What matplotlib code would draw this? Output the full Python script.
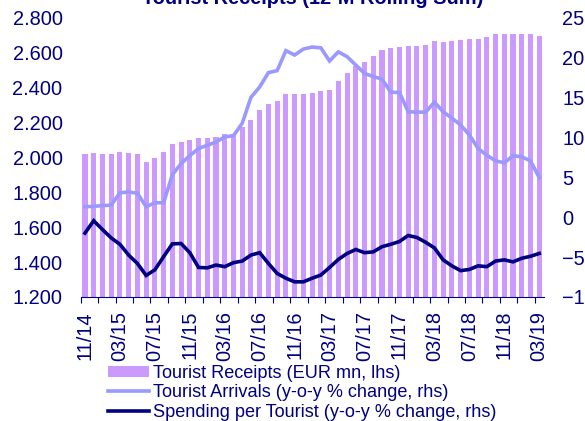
import pandas as pd
import numpy as np
import matplotlib.pyplot as plt
from matplotlib.ticker import FuncFormatter

plt.rcParams['font.family'] = ['Liberation Sans', 'DejaVu Sans']

NAVY = "#000080"
BAR_COLOR = "#CC99FF"
ARRIVALS_COLOR = "#9999FF"

# monthly, 11/2014 - 03/2019
months = pd.date_range("2014-11-01", periods=53, freq="MS").strftime("%m/%y").tolist()

# Tourist receipts, 12-month rolling sum (EUR mn, lhs)
receipts = [2017, 2023, 2019, 2019, 2028, 2024, 2019, 1975, 1996, 2030,
            2076, 2086, 2101, 2112, 2112, 2118, 2131, 2135, 2171, 2213,
            2270, 2303, 2320, 2362, 2362, 2360, 2368, 2378, 2383, 2435,
            2480, 2522, 2547, 2580, 2613, 2623, 2631, 2635, 2639, 2644,
            2667, 2660, 2664, 2673, 2675, 2679, 2687, 2704, 2706, 2706,
            2707, 2706, 2694]

# Tourist arrivals, y-o-y % change (rhs)
arrivals = [1.3, 1.35, 1.45, 1.5, 3.05, 3.15, 3.0, 1.3, 1.8, 1.8,
            5.3, 6.7, 7.7, 8.6, 9.0, 9.4, 10.05, 10.2, 11.75, 15.0,
            16.3, 18.1, 18.35, 20.85, 20.3, 21.05, 21.3, 21.2, 19.55, 20.7,
            20.1, 19.05, 18.0, 17.6, 17.3, 15.65, 15.6, 13.2, 13.15, 13.15,
            14.4, 13.2, 12.4, 11.55, 10.3, 8.6, 7.75, 7.05, 6.8, 7.7,
            7.55, 7.05, 4.95]

# Spending per tourist, y-o-y % change (rhs)
spending = [-2.0, -0.45, -1.55, -2.6, -3.4, -4.75, -5.8, -7.3, -6.6, -4.95,
            -3.35, -3.3, -4.45, -6.3, -6.35, -6.0, -6.2, -5.7, -5.5, -4.75,
            -4.45, -5.8, -7.05, -7.65, -8.1, -8.1, -7.65, -7.25, -6.3, -5.3,
            -4.55, -4.05, -4.45, -4.35, -3.7, -3.4, -3.05, -2.3, -2.55, -3.15,
            -3.85, -5.35, -6.1, -6.7, -6.55, -6.1, -6.2, -5.5, -5.35, -5.6,
            -5.15, -4.9, -4.55]

x = np.arange(len(months))

fig = plt.figure(figsize=(5.85, 4.21), dpi=100)
ax = fig.add_axes([80.6 / 585, 1 - 297 / 421, 463 / 585, 279.5 / 421])
ax2 = ax.twinx()

bars = ax.bar(x, receipts, width=0.58, color=BAR_COLOR, label="Tourist Receipts (EUR mn, lhs)")
l1, = ax2.plot(x, arrivals, color=ARRIVALS_COLOR, lw=2.6, solid_joinstyle="miter",
               label="Tourist Arrivals (y-o-y % change, rhs)")
l2, = ax2.plot(x, spending, color=NAVY, lw=2.6, solid_joinstyle="miter",
               label="Spending per Tourist (y-o-y % change, rhs)")

ax.set_xlim(-0.5, len(months) - 0.5)
ax.set_ylim(1200, 2800)
ax.set_yticks(np.arange(1200, 2801, 200))
ax.yaxis.set_major_formatter(FuncFormatter(lambda v, p: "{:,.0f}".format(v).replace(",", ".")))
ax2.set_ylim(-10, 25)
ax2.set_yticks(np.arange(-10, 26, 5))

ax.set_xticks(x[::4])
ax.set_xticklabels(months[::4], rotation=90)
ax.set_xticks(np.arange(-0.5, len(months) - 1, 2), minor=True)

for a in (ax, ax2):
    for s in ("top", "left", "right", "bottom"):
        a.spines[s].set_visible(False)
ax.spines["bottom"].set_visible(True)
ax.spines["bottom"].set_color(NAVY)
ax.spines["bottom"].set_linewidth(0.8)

ax.tick_params(axis="x", which="major", length=0, pad=10, labelsize=14.4, labelcolor=NAVY)
ax.tick_params(axis="x", which="minor", length=4, width=0.8, color=NAVY)
ax.tick_params(axis="y", length=0, pad=13, labelsize=14.4, labelcolor=NAVY)
ax2.tick_params(axis="y", length=0, pad=13.5, labelsize=14.4, labelcolor=NAVY)

fig.text(313 / 585, 1 - 4.5 / 421, "Tourist Receipts (12-M Rolling Sum)",
         ha="center", va="baseline", fontsize=14.4, fontweight="bold", color=NAVY)

leg = fig.legend(handles=[bars, l1, l2], loc="upper left",
                 bbox_to_anchor=(108 / 585, 1 - 365 / 421),
                 frameon=False, borderpad=0, borderaxespad=0,
                 handlelength=2.25, handletextpad=0.22, labelspacing=0.13,
                 handleheight=0.55, fontsize=13.1)
for t in leg.get_texts():
    t.set_color(NAVY)

fig.savefig("out.png", dpi=100)
